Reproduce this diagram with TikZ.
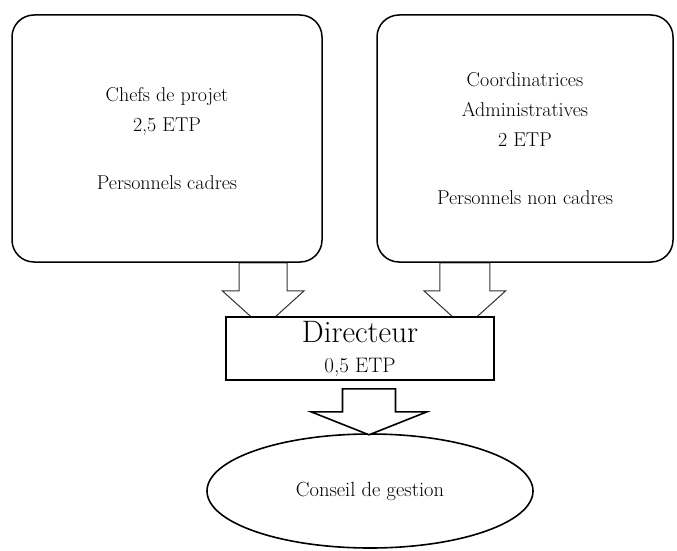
\documentclass[tikz,border=0pt]{standalone}
\usepackage{tikz}
\usetikzlibrary{shapes.geometric, calc, backgrounds}

% hollow block arrow pointing down: start, shaft length, half shaft, half head, head length
\newcommand{\hollowarrow}[6][]{%
  \draw[arrowline, #1] #2 ++(-#4,0) -- ++(0,#3) -- ++(#4-#5,0) -- ++(#5,#6)
    -- ++(#5,-#6) -- ++(#4-#5,0) -- ++(0,-#3) -- cycle;}

\tikzset{
  staffbox/.style={draw, line width=1.5pt, rounded corners=22pt, align=center,
    font=\fontsize{20}{30}\selectfont},
  arrowline/.style={draw=black!80, fill=white, line width=1pt}
}

\begin{document}
\begin{tikzpicture}[x=1pt, y=-1pt]
        \useasboundingbox (0,0) rectangle (677,551);

        % Staff boxes
        \node[staffbox, minimum width=310pt, minimum height=247pt] (chefs) at (167,138.5)
          {Chefs de projet\\ 2,5 ETP\\[28pt] Personnels cadres};
        \node[staffbox, minimum width=296pt, minimum height=247pt] (coord) at (525,138.5)
          {Coordinatrices\\ Administratives\\ 2 ETP\\[28pt] Personnels non cadres};

        % Director
        \node[draw, fill=white, line width=1.6pt, minimum width=268pt, minimum height=63pt,
          align=center, inner sep=0pt, font=\fontsize{31}{33}\selectfont] (dir) at (360,348.5)
          {Directeur\\[-3pt]{\fontsize{21}{22}\selectfont 0,5 ETP}};

        % Board
        \node[draw, ellipse, line width=1.6pt, minimum width=326pt, minimum height=114pt,
          font=\fontsize{20.5}{22}\selectfont] (conseil) at (370,491) {Conseil de gestion};

        % Arrows into and out of the director
        \coordinate (arL) at ($(dir.north west)+(38,0)$);
        \coordinate (arR) at ($(dir.north east)+(-30,0)$);
        \begin{scope}[on background layer]
          \hollowarrow{(arL |- chefs.south)}{28}{24}{41}{37}
          \hollowarrow{(arR |- coord.south)}{28}{25}{41}{37}
        \end{scope}
        \hollowarrow[line width=1.6pt, draw=black]{($(dir.south)+(9,8)$)}{23}{26.5}{58}{23}
\end{tikzpicture}
\end{document}
